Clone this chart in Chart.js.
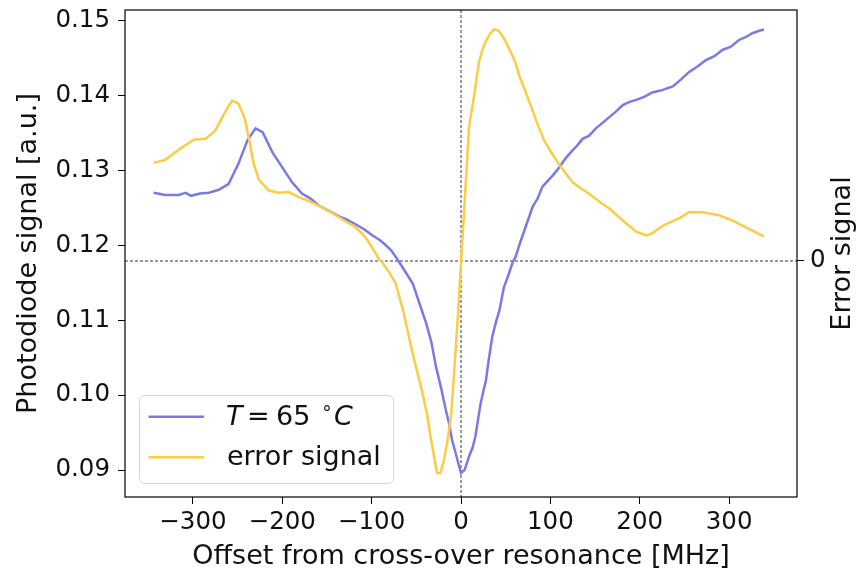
<!DOCTYPE html>
<html><head><meta charset="utf-8">
<script src="https://cdn.jsdelivr.net/npm/chart.js@4.4.0/dist/chart.umd.min.js"></script>
<style>html,body{margin:0;padding:0;background:#fff}#wrap{width:865px;height:574px;position:relative}</style>
</head><body><div id="wrap"><canvas id="c" width="865" height="574"></canvas></div>
<script>
// ---- data ----
const offsetBlue = [-344,-331,-316,-308,-302,-292,-282,-271,-260,-249,-239,-230,-222,-211,-200,-189,-178,-168,-159,-148,-137,-127,-118,-108,-99,-91,-84,-78,-71,-63,-54,-47,-39,-33,-28,-22,-17,-13,-10,-5,0,4,9,13,16,19,22,25,28,31,35,39,43,48,53,58,61,66,71,76,80,86,91,97,104,110,117,125,130,136,143,151,158,166,173,181,188,196,205,214,225,237,246,255,265,274,283,293,302,311,319,326,333,339];
const signalBlue = [0.1270,0.1267,0.1267,0.1270,0.1266,0.1269,0.1270,0.1274,0.1282,0.1309,0.1340,0.1356,0.1351,0.1324,0.1304,0.1284,0.1269,0.1262,0.1253,0.1246,0.1239,0.1234,0.1228,0.1221,0.1213,0.1207,0.1200,0.1193,0.1181,0.1166,0.1149,0.1124,0.1096,0.1070,0.1038,0.1008,0.0980,0.0960,0.0940,0.0918,0.0896,0.0900,0.0918,0.0930,0.0944,0.0967,0.0989,0.1005,0.1020,0.1047,0.1078,0.1097,0.1113,0.1144,0.1160,0.1178,0.1184,0.1203,0.1220,0.1237,0.1251,0.1263,0.1278,0.1286,0.1295,0.1304,0.1316,0.1327,0.1333,0.1342,0.1346,0.1356,0.1363,0.1371,0.1378,0.1387,0.1391,0.1394,0.1398,0.1404,0.1407,0.1412,0.1421,0.1431,0.1439,0.1447,0.1452,0.1461,0.1465,0.1474,0.1478,0.1483,0.1486,0.1488];
const offsetErr = [-344,-331,-314,-299,-286,-275,-267,-261,-256,-249,-242,-237,-232,-226,-215,-204,-193,-181,-170,-159,-140,-128,-118,-110,-103,-92,-88,-81,-73,-64,-55,-49,-43,-38,-34,-30,-27,-23,-19,-15,-11,-8,-4,0,2,5,9,15,20,24,28,33,37,41,44,49,54,61,65,71,76,84,93,102,112,125,134,143,155,166,181,196,207,214,222,229,244,255,270,289,304,322,339];
const errorSignal = [1.31,1.35,1.50,1.62,1.63,1.74,1.92,2.05,2.14,2.10,1.90,1.61,1.30,1.08,0.94,0.91,0.92,0.85,0.80,0.74,0.61,0.52,0.45,0.36,0.25,0.03,-0.02,-0.14,-0.30,-0.70,-1.19,-1.48,-1.77,-2.05,-2.35,-2.62,-2.83,-2.83,-2.65,-2.39,-2.05,-1.55,-0.83,-0.03,0.37,0.98,1.79,2.23,2.65,2.82,2.94,3.04,3.09,3.08,3.05,2.95,2.83,2.65,2.48,2.30,2.14,1.88,1.61,1.43,1.25,1.05,0.97,0.90,0.79,0.70,0.54,0.39,0.34,0.37,0.44,0.49,0.57,0.65,0.65,0.61,0.54,0.43,0.33];
const xTicks = [-300,-200,-100,0,100,200,300];
const yTicks = [0.09,0.10,0.11,0.12,0.13,0.14,0.15];
const errTicks = [0];
const seriesLabels = ['T = 65 \u00B0C', 'error signal'];
const xTitle = 'Offset from cross-over resonance [MHz]';
const yTitle = 'Photodiode signal [a.u.]';
const y2Title = 'Error signal';

const BLUE = 'rgb(122,122,230)';
const YELLOW = 'rgb(251,204,68)';
const FONT = "'DejaVu Sans', sans-serif";
const TXT = '#111';

const toPts = (xs, ys) => xs.map((x, i) => ({x, y: ys[i]}));
const setTicks = arr => s => { s.ticks = arr.map(v => ({value: v})); };
const noPad = s => { s.paddingTop = 0; s.paddingBottom = 0; s.paddingLeft = 0; s.paddingRight = 0; };

const guides = {
  id: 'guides',
  beforeDatasetsDraw(chart) {
    const {ctx, chartArea: a, scales} = chart;
    ctx.save();
    ctx.strokeStyle = '#000'; ctx.lineWidth = 0.8; ctx.setLineDash([3, 2]);
    const x0 = scales.x.getPixelForValue(0);
    ctx.beginPath(); ctx.moveTo(x0, a.top); ctx.lineTo(x0, a.bottom); ctx.stroke();
    const y0 = scales.y2.getPixelForValue(0);
    ctx.beginPath(); ctx.moveTo(a.left, y0); ctx.lineTo(a.right, y0); ctx.stroke();
    ctx.restore();
  }
};

function rr(ctx, x, y, w, h, r) {
  ctx.beginPath();
  ctx.moveTo(x + r, y); ctx.lineTo(x + w - r, y); ctx.arcTo(x + w, y, x + w, y + r, r);
  ctx.lineTo(x + w, y + h - r); ctx.arcTo(x + w, y + h, x + w - r, y + h, r);
  ctx.lineTo(x + r, y + h); ctx.arcTo(x, y + h, x, y + h - r, r);
  ctx.lineTo(x, y + r); ctx.arcTo(x, y, x + r, y, r); ctx.closePath();
}

const frameAndLegend = {
  id: 'frameAndLegend',
  afterDraw(chart) {
    const {ctx, chartArea: a} = chart;
    ctx.save();
    // axes frame (all four spines)
    ctx.strokeStyle = '#000'; ctx.lineWidth = 1.2;
    ctx.strokeRect(a.left, a.top, a.right - a.left, a.bottom - a.top);
    // right axis title (reads bottom to top)
    ctx.save();
    ctx.translate(843, (a.top + a.bottom) / 2);
    ctx.rotate(-Math.PI / 2);
    ctx.font = '27px ' + FONT; ctx.fillStyle = TXT; ctx.textAlign = 'center'; ctx.textBaseline = 'middle';
    ctx.fillText(y2Title, 0, 0);
    ctx.restore();
    // legend
    const bw = 254, bh = 88, bx = a.left + 14, by = a.bottom - 14 - bh;
    rr(ctx, bx + 0.5, by + 0.5, bw, bh, 5);
    ctx.fillStyle = 'rgba(255,255,255,0.8)'; ctx.fill();
    ctx.strokeStyle = '#d6d6d6'; ctx.lineWidth = 1; ctx.stroke();
    chart.data.datasets.forEach((ds, i) => {
      const ly = by + 21.7 + i * 40.6;
      ctx.beginPath(); ctx.moveTo(bx + 9.5, ly); ctx.lineTo(bx + 65, ly);
      ctx.strokeStyle = ds.borderColor; ctx.lineWidth = ds.borderWidth; ctx.stroke();
      const tx = bx + 88, base = ly + 8;
      ctx.fillStyle = TXT; ctx.textBaseline = 'alphabetic'; ctx.textAlign = 'left';
      if (i === 0) {
        // mathtext-like rendering of "T = 65 °C"
        const parts = ds.label.split(' '); // ['T','=','65','°C']
        ctx.font = 'italic 27px ' + FONT; ctx.fillText(parts[0], tx - 1, base);
        ctx.font = '27px ' + FONT; ctx.fillText(parts[1], tx + 20, base);
        ctx.fillText(parts[2], tx + 49, base);
        ctx.font = '19px ' + FONT; ctx.fillText('\u2218', tx + 94, base - 11);
        ctx.font = 'italic 27px ' + FONT; ctx.fillText(parts[3].replace('\u00B0', ''), tx + 107, base);
      } else {
        ctx.font = '27px ' + FONT; ctx.fillText(ds.label, tx, base);
      }
    });
    ctx.restore();
  }
};

const tickGrid = {drawOnChartArea: false, drawTicks: true, tickLength: 7, color: '#000', lineWidth: 1};

new Chart(document.getElementById('c'), {
  type: 'scatter',
  data: {
    datasets: [
      {label: seriesLabels[0], data: toPts(offsetBlue, signalBlue), yAxisID: 'y', showLine: true,
       borderColor: BLUE, backgroundColor: BLUE, borderWidth: 2.5, pointRadius: 0, tension: 0, order: 1},
      {label: seriesLabels[1], data: toPts(offsetErr, errorSignal), yAxisID: 'y2', showLine: true,
       borderColor: YELLOW, backgroundColor: YELLOW, borderWidth: 2.5, pointRadius: 0, tension: 0, order: 0}
    ]
  },
  options: {
    responsive: false, animation: false, devicePixelRatio: 1,
    layout: {padding: {top: 10, left: 0, right: 0, bottom: 0}},
    plugins: {legend: {display: false}, tooltip: {enabled: false}},
    scales: {
      x: {
        type: 'linear', position: 'bottom', min: -376, max: 376,
        afterBuildTicks: setTicks(xTicks),
        afterFit: s => { s.height = 77; noPad(s); },
        ticks: {font: {family: FONT, size: 24.5}, color: TXT, padding: 3.5, maxRotation: 0, autoSkip: false,
                callback: v => v < 0 ? '\u2212' + Math.abs(v) : String(v)},
        grid: tickGrid,
        border: {display: false},
        title: {display: true, text: xTitle, font: {family: FONT, size: 27}, color: TXT, padding: {top: 0, bottom: 1}}
      },
      y: {
        type: 'linear', position: 'left', min: 0.0864, max: 0.1514,
        afterBuildTicks: setTicks(yTicks),
        afterFit: s => { s.width = 125; noPad(s); },
        ticks: {font: {family: FONT, size: 24.5}, color: TXT, padding: 8, callback: v => v.toFixed(2)},
        grid: tickGrid,
        border: {display: false},
        title: {display: true, text: yTitle, font: {family: FONT, size: 27}, color: TXT, padding: {top: 13, bottom: 0}}
      },
      y2: {
        type: 'linear', position: 'right', min: -3.15, max: 3.35,
        afterBuildTicks: setTicks(errTicks),
        afterFit: s => { s.width = 68; noPad(s); },
        ticks: {font: {family: FONT, size: 24.5}, color: TXT, padding: 6, callback: v => String(v)},
        grid: tickGrid,
        border: {display: false}
      }
    }
  },
  plugins: [guides, frameAndLegend]
});
</script>
</body></html>
